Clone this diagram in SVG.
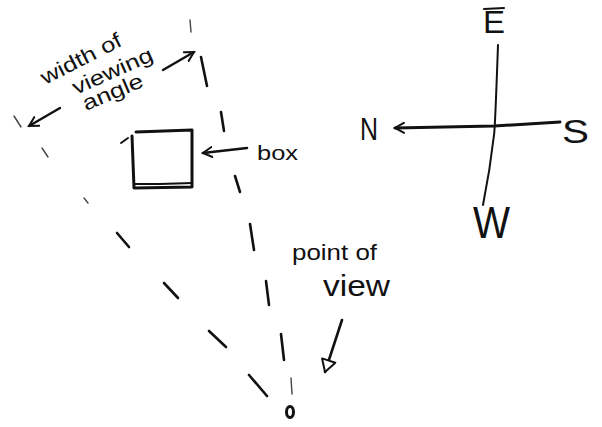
<svg xmlns="http://www.w3.org/2000/svg" width="602" height="427" viewBox="0 0 602 427">
<style>
.ink{fill:none;stroke:#111;stroke-linecap:round;stroke-linejoin:round}
.dash{fill:none;stroke:#111;stroke-linecap:round;stroke-width:2.6}
.faint{stroke-width:1.4;stroke:#444}
.hand{font-family:"Liberation Sans","DejaVu Sans",sans-serif;fill:#111}
</style>
<defs>
<marker id="vhead" viewBox="0 0 12 12" refX="10" refY="6" markerWidth="12" markerHeight="12" markerUnits="userSpaceOnUse" orient="auto">
<path d="M1,1 L10,6 L1,11" fill="none" stroke="#111" stroke-width="2" stroke-linecap="round"/>
</marker>
<marker id="tri" viewBox="0 0 16 16" refX="14" refY="8" markerWidth="16" markerHeight="16" markerUnits="userSpaceOnUse" orient="auto">
<path d="M2,1 L14,8 L2,15 Z" fill="#fff" stroke="#111" stroke-width="2" stroke-linejoin="round"/>
</marker>
</defs>
<rect width="602" height="427" fill="#fff"/>
<g id="connectors">
<g id="right-sightline">
<path class="dash faint" d="M190,20 L191,32"/>
<path class="dash" d="M201,57 L207,86"/>
<path class="dash" d="M221,112 L224,131"/>
<path class="dash" d="M235,176 L240,192"/>
<path class="dash" d="M250,224 L254,250"/>
<path class="dash" d="M266,281 L269,305"/>
<path class="dash" d="M281,334 L284,360"/>
<path class="dash faint" d="M291,378 L292,394"/>
</g>
<g id="left-sightline">
<path class="dash faint" d="M14,116 L21,127"/>
<path class="dash faint" d="M42,148 L48,157"/>
<path class="dash faint" d="M84,198 L88,203"/>
<path class="dash" d="M117,233 L129,247"/>
<path class="dash" d="M164,283 L178,298"/>
<path class="dash" d="M209,331 L226,347"/>
<path class="dash" d="M249,375 L267,396"/>
</g>
<path class="ink" stroke-width="2.4" d="M60,108 L29,126" marker-end="url(#vhead)"/>
<path class="ink" stroke-width="2.4" d="M163,70 L194,52" marker-end="url(#vhead)"/>
<path class="ink" stroke-width="2.6" d="M247,148 L203,153" marker-end="url(#vhead)"/>
<path class="ink" stroke-width="2.6" d="M342,320 L325,372" marker-end="url(#tri)"/>
</g>
<g id="box">
<path class="ink" stroke-width="3" d="M136,132 L192,130 L192,187 L134,188 L132,136"/>
<path class="ink" stroke-width="2.2" d="M134,184 L160,184 L192,183"/>
<path class="ink" stroke-width="2" d="M121,143 L128,138"/>
<text class="hand" x="257" y="160" font-size="21" textLength="41" lengthAdjust="spacingAndGlyphs">box</text>
</g>
<g id="viewing-angle-label" class="hand" font-size="21">
<text transform="translate(45,85) rotate(-27)" textLength="88" lengthAdjust="spacingAndGlyphs">width of</text>
<text transform="translate(76,95) rotate(-24)" textLength="86" lengthAdjust="spacingAndGlyphs">viewing</text>
<text transform="translate(86,111) rotate(-23)" textLength="64" lengthAdjust="spacingAndGlyphs">angle</text>
</g>
<g id="compass">
<path class="ink" stroke-width="2" d="M498,45 Q495,130 494,135 Q490,170 483,205"/>
<path class="ink" stroke-width="3" d="M560,122 L494,126 L395,128" marker-end="url(#vhead)"/>
<text class="hand" x="360" y="140" font-size="31" textLength="18" lengthAdjust="spacingAndGlyphs">N</text>
<text class="hand" x="483" y="33" font-size="32" textLength="22" lengthAdjust="spacingAndGlyphs">E</text>
<path class="ink" stroke-width="2" d="M484,9 L504,8"/>
<text class="hand" x="562" y="143" font-size="33" textLength="27" lengthAdjust="spacingAndGlyphs">S</text>
<text class="hand" x="473" y="238" font-size="44" textLength="37" lengthAdjust="spacingAndGlyphs">W</text>
</g>
<g id="point-of-view">
<text class="hand" x="292" y="260" font-size="22" textLength="85" lengthAdjust="spacingAndGlyphs">point of</text>
<text class="hand" x="323" y="296" font-size="30" textLength="67" lengthAdjust="spacingAndGlyphs">view</text>
<ellipse cx="290" cy="412" rx="3.5" ry="5.5" fill="none" stroke="#111" stroke-width="3"/>
</g>
</svg>
